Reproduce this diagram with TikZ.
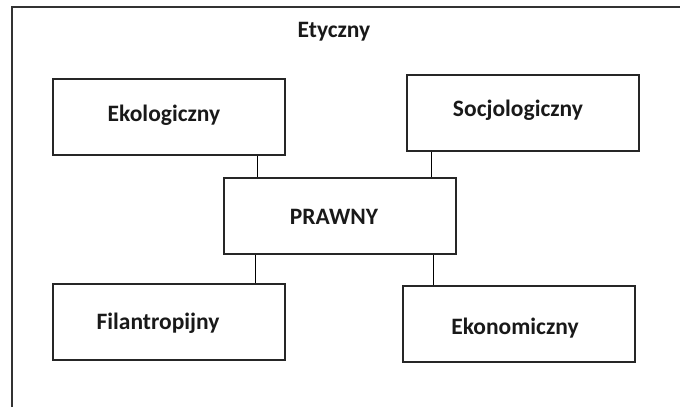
\documentclass[tikz,border=0pt]{standalone}
\usepackage{fontspec}
\setmainfont{Carlito}
\begin{document}
\begin{tikzpicture}[x=1pt,y=1pt,
  box/.style={draw=black!85,line width=1.4pt,minimum width=232pt,minimum height=76pt,inner sep=0pt},
  lbl/.style={font=\fontsize{23.5}{28}\selectfont\bfseries,text=black!90,inner sep=0pt}]
\useasboundingbox (0,0) rectangle (680,-407);
\draw[black!80,line width=1.4pt] (12,-407) -- (12,-7) -- (680,-7);
\node[lbl] (ety) at (334,-32) {Etyczny};
\node[box] (eko) at (169,-117) {}; \node[lbl] at (164,-115) {Ekologiczny};
\node[box] (socjo) at (523,-113) {}; \node[lbl] at (518,-110) {Socjologiczny};
\node[box] (prawny) at (340,-216) {}; \node[lbl] at (334,-217) {PRAWNY};
\node[box] (filan) at (169,-322) {}; \node[lbl] at (158,-323) {Filantropijny};
\node[box] (ekon) at (519,-324) {}; \node[lbl] at (515,-328) {Ekonomiczny};
\draw[line width=1.4pt] ([xshift=-28pt]eko.south east) -- ([xshift=-28pt]eko.south east |- prawny.north);
\draw[line width=1.4pt] ([xshift=25pt]socjo.south west) -- ([xshift=25pt]socjo.south west |- prawny.north);
\draw[line width=1.4pt] ([xshift=-30pt]filan.north east) -- ([xshift=-30pt]filan.north east |- prawny.south);
\draw[line width=1.4pt] ([xshift=31pt]ekon.north west) -- ([xshift=31pt]ekon.north west |- prawny.south);
\end{tikzpicture}
\end{document}
